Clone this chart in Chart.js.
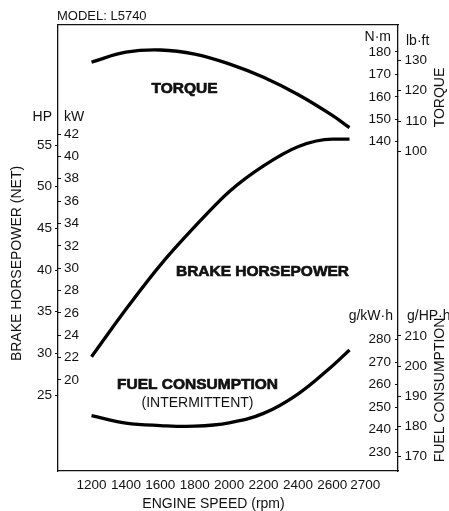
<!DOCTYPE html>
<html>
<head>
<meta charset="utf-8">
<script src="https://cdn.jsdelivr.net/npm/chart.js@4.4.1/dist/chart.umd.min.js"></script>
<style>
  html, body { margin: 0; padding: 0; background: #fff; }
</style>
</head>
<body>
<canvas id="chart" width="449" height="511"></canvas>
<script>
// engine speed (rpm)
const rpm = [1200, 1400, 1600, 1800, 2000, 2200, 2400, 2600, 2700];
// torque, N·m
const torqueNm = [175.5, 179.9, 180.9, 179.1, 174.7, 168.7, 161.0, 151.7, 146.2];
// brake horsepower (net), HP
const brakeHp = [29.6, 35.3, 40.6, 45.2, 49.4, 52.5, 54.8, 55.7, 55.7];
// fuel consumption (intermittent), g/kW·h
const fuelGkwh = [246.2, 242.9, 241.8, 241.5, 243.0, 247.2, 255.8, 268.3, 275.4];

// tick labels
const rpmTicks = [1200, 1400, 1600, 1800, 2000, 2200, 2400, 2600, 2700];
const hpTicks = [25, 30, 35, 40, 45, 50, 55];
const kwTicks = [20, 22, 24, 26, 28, 30, 32, 34, 36, 38, 40, 42];
const nmTicks = [140, 150, 160, 170, 180];
const lbftTicks = [100, 110, 120, 130];
const gkwhTicks = [230, 240, 250, 260, 270, 280];
const ghphTicks = [170, 180, 190, 200, 210];

// axis ranges and unit factors
const rpmRange = [1005, 2982];
const hpRange = [15.9, 69.4];
const nmRange = [-7.05, 192.05];
const gkwhRange = [221.6, 419.8];
const HP_TO_KW = 0.7457;
const NM_TO_LBFT = 0.7376;
const KWH_TO_HPH = 0.7457;

const ink = '#111';
const family = '"Liberation Sans", Arial, Helvetica, sans-serif';
const tickFont = { family, size: 13.5 };

function yAxis(position, weight, range, values, opts) {
  return {
    type: 'linear',
    position,
    weight,
    min: range[0],
    max: range[1],
    afterFit: s => {
      // fixed box, and no extra room asked for the end labels
      s.width = opts.width || 0;
      s.paddingTop = 0;
      s.paddingBottom = 0;
      s.paddingLeft = 0;
      s.paddingRight = 0;
    },
    afterBuildTicks: s => { s.ticks = values.map(v => ({ value: v })); },
    grid: {
      drawOnChartArea: false,
      drawTicks: true,
      tickLength: opts.tick,
      tickColor: ink,
      tickWidth: 1
    },
    border: { display: !!opts.border, color: ink, width: 1.3 },
    ticks: {
      mirror: opts.mirror,
      padding: opts.pad,
      color: ink,
      font: tickFont,
      callback: v => String(v)
    }
  };
}

function xAxis(position) {
  return {
    type: 'linear',
    position,
    min: rpmRange[0],
    max: rpmRange[1],
    afterFit: s => { s.height = 0; },
    grid: { display: false },
    ticks: { display: false },
    border: { display: true, color: ink, width: 1.3 }
  };
}

const series = (values) => rpm.map((r, i) => ({ x: r, y: values[i] }));

const lineStyle = {
  borderColor: '#000',
  borderWidth: 3.3,
  pointRadius: 0,
  fill: false,
  tension: 0.4
};

// text that sits around the curves and axes
const notes = {
  id: 'notes',
  afterDraw(chart) {
    const { ctx, chartArea: a } = chart;
    const xs = chart.scales.x;
    ctx.save();
    ctx.fillStyle = ink;
    ctx.strokeStyle = ink;
    ctx.textBaseline = 'middle';

    // rpm labels, pushed right when they would run into the previous one
    ctx.font = `13.5px ${family}`;
    ctx.textAlign = 'left';
    let prevRight = -Infinity;
    rpmTicks.forEach(v => {
      const label = String(v);
      const w = ctx.measureText(label).width;
      let left = xs.getPixelForValue(v) - w / 2;
      if (left < prevRight + 3) left = prevRight + 3;
      ctx.fillText(label, left, a.bottom + 14);
      prevRight = left + w;
    });

    const put = (text, x, y, align, font, bold, rot) => {
      ctx.save();
      ctx.translate(x, y);
      if (rot) ctx.rotate(rot);
      ctx.font = font;
      ctx.textAlign = align;
      ctx.fillText(text, 0, 0);
      if (bold) {
        ctx.lineWidth = 0.7;
        ctx.strokeText(text, 0, 0);
      }
      ctx.restore();
    };
    const reg = `14px ${family}`;
    const heavy = `bold 15.5px ${family}`;

    put('MODEL: L5740', 57, 16, 'left', `13px ${family}`);
    put('HP', 52, 117, 'right', reg);
    put('kW', 64, 117, 'left', reg);
    put('N·m', 391, 37.5, 'right', reg);
    put('lb·ft', 406, 41, 'left', reg);
    put('g/kW·h', 393, 316, 'right', reg);
    put('g/HP·h', 407, 316, 'left', reg);

    put('TORQUE', 184.5, 89, 'center', heavy, true);
    put('BRAKE HORSEPOWER', 262.5, 271.5, 'center', heavy, true);
    put('FUEL CONSUMPTION', 197.5, 385, 'center', heavy, true);
    put('(INTERMITTENT)', 197.5, 403.5, 'center', reg);

    put('ENGINE SPEED (rpm)', 213.5, 504, 'center', reg);
    put('BRAKE HORSEPOWER (NET)', 17, 263.5, 'center', reg, false, -Math.PI / 2);
    put('TORQUE', 440, 97.5, 'center', reg, false, -Math.PI / 2);
    put('FUEL CONSUMPTION', 440, 390, 'center', reg, false, -Math.PI / 2);

    ctx.restore();
  }
};

new Chart(document.getElementById('chart'), {
  type: 'line',
  data: {
    datasets: [
      { label: 'Torque', data: series(torqueNm), yAxisID: 'nm', ...lineStyle },
      { label: 'Brake horsepower', data: series(brakeHp), yAxisID: 'hp', ...lineStyle, cubicInterpolationMode: 'monotone' },
      { label: 'Fuel consumption', data: series(fuelGkwh), yAxisID: 'gkwh', ...lineStyle }
    ]
  },
  options: {
    responsive: false,
    animation: false,
    devicePixelRatio: 1,
    layout: { padding: { left: 0, right: 51, top: 25, bottom: 40 } },
    plugins: { legend: { display: false }, tooltip: { enabled: false } },
    scales: {
      x: xAxis('bottom'),
      xTop: xAxis('top'),
      hp: yAxis('left', 1, hpRange, hpTicks,
        { width: 58, tick: 3, pad: 3, mirror: false, border: true }),
      kw: yAxis('left', 0, [hpRange[0] * HP_TO_KW, hpRange[1] * HP_TO_KW], kwTicks,
        { tick: -3, pad: 6, mirror: true }),
      nm: yAxis('right', 0, nmRange, nmTicks,
        { tick: -3, pad: -7, mirror: true, border: true }),
      lbft: yAxis('right', 1, [nmRange[0] * NM_TO_LBFT, nmRange[1] * NM_TO_LBFT], lbftTicks,
        { tick: 3, pad: 29, mirror: true }),
      gkwh: yAxis('right', 0, gkwhRange, gkwhTicks,
        { tick: -3, pad: -7, mirror: true }),
      ghph: yAxis('right', 1, [gkwhRange[0] * KWH_TO_HPH, gkwhRange[1] * KWH_TO_HPH], ghphTicks,
        { tick: 3, pad: 29, mirror: true })
    }
  },
  plugins: [notes]
});
</script>
</body>
</html>
